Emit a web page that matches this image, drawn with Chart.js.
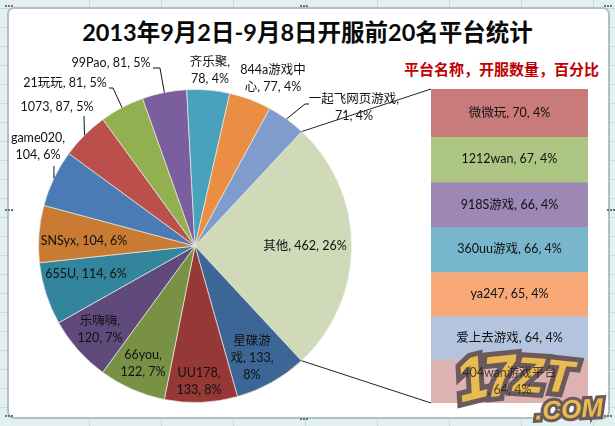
<!DOCTYPE html>
<html>
<head>
<meta charset="utf-8">
<style>
  html, body { margin: 0; padding: 0; }
  body {
    width: 615px; height: 426px; position: relative; overflow: hidden;
    background-color: #e3f0f0;
    background-image:
      repeating-linear-gradient(90deg, transparent 0 71px, #c9dcdc 71px 72px),
      repeating-linear-gradient(0deg, transparent 0 18px, #c9dcdc 18px 19px);
    background-position: 18px 0, 0 0;
    font-family: Lato, "Noto Sans CJK SC", sans-serif;
  }
  #frame {
    position: absolute; left: 7px; top: 7px; width: 599px; height: 408px;
    background: #fff; border: 2px solid #b4bec2; border-radius: 7px;
  }
  canvas { position: absolute; left: 0; top: 0; }
  .txt { position: absolute; white-space: nowrap; font-weight: 700; text-align: center; }
  #title { left: 0; width: 615px; top: 17px; font-size: 23.5px; line-height: 30px; color: #0a0a0a; }
  #note { left: 404px; top: 59px; font-size: 15px; line-height: 20px; color: #c00000; }
  .dot { position: absolute; width: 2px; height: 2px; background: #66767c; }
  #logo { position: absolute; left: 0; top: 0; pointer-events: none; }
  #logo span {
    position: absolute; font-family: "Liberation Sans", sans-serif; font-weight: 700; font-style: italic;
    color: #e9bb50; -webkit-text-stroke: 10px #6a5a5c; paint-order: stroke fill; line-height: 1;
  }
</style>
</head>
<body>
<div id="frame"></div>
<div id="title" class="txt">2013年9月2日-9月8日开服前20名平台统计</div>
<div id="note" class="txt">平台名称，开服数量，百分比</div>
<canvas id="pieChart" width="615" height="426"></canvas>
<canvas id="stackChart" width="615" height="426"></canvas>
<div id="logo">
  <span style="left:456px;top:349px;font-size:60px;transform:rotate(-14deg)">1</span>
  <span style="left:484px;top:347px;font-size:58px;transform:rotate(-6deg)">7</span>
  <span style="left:514px;top:350px;font-size:50px;transform:rotate(4deg)">Z</span>
  <span style="left:545px;top:353px;font-size:46px;transform:rotate(6deg)">T</span>
  <span style="left:535px;top:396px;font-size:26px;-webkit-text-stroke-width:6px;transform:rotate(-3deg)">.COM</span>
</div>
<canvas id="stackText" width="615" height="426"></canvas>
<script src="https://cdn.jsdelivr.net/npm/chart.js@4"></script>
<script>
  // slices, clockwise starting from the big "other" slice
  const pieNames = ['其他', '星碟游戏', 'UU178', '66you', '乐嗨嗨', '655U', 'SNSyx', 'game020', '1073', '21玩玩', '99Pao', '齐乐聚', '844a游戏中心', '一起飞网页游戏'];
  const pieValues = [462, 133, 133, 122, 120, 114, 104, 104, 87, 81, 81, 78, 77, 71];
  const pieColors = ['#d0d9b8', '#3c6696', '#953836', '#789145', '#604a7c', '#32859c', '#c97a33', '#4a7bb5', '#ba4f4c', '#93b050', '#7b5e9e', '#48a2be', '#e98e43', '#7f9ccc'];

  // the breakdown of "other"
  const stackNames = ['微微玩', '1212wan', '918S游戏', '360uu游戏', 'ya247', '爱上去游戏', '404wan游戏平台'];
  const stackValues = [70, 67, 66, 66, 65, 64, 64];
  const stackColors = ['#c87b7a', '#aec683', '#9c87b5', '#78b6ce', '#f9a978', '#b4c3de', '#deb2b0'];

  const total = pieValues.reduce((a, b) => a + b, 0);
  const pct = v => Math.round(v / total * 100);

  // label layout: centre of each label on the page, and where its text wraps
  const pieLabelAt = [[305, 246], [252, 358], [199, 381], [143, 363], [100, 329], [86, 274], [84, 241], [38, 146], [57, 107], [65, 83], [111, 63], [210, 70], [273, 78], [354, 107]];
  const pieLabelWraps = [[], [3, 10], [7], [6], [4], [], [], [8], [], [], [], [4], [7], [8]];
  const stackLabelWraps = [[], [], [], [], [], [], [10]];

  // leader lines: slice index -> bend and end of the line
  const leaders = {
    7: [[54, 166]],
    8: [[84, 116]],
    9: [[113, 88], [109, 88]],
    10: [[160, 68], [153, 68]],
    13: [[305, 104], [309, 104]]
  };

  const labelFont = '12.5px Lato, "Noto Sans CJK SC", sans-serif';
  const lineGap = 17;

  function splitAt(text, wraps) {
    const lines = [];
    let from = 0;
    wraps.forEach(w => { lines.push(text.slice(from, w).trim()); from = w; });
    lines.push(text.slice(from).trim());
    return lines;
  }

  function drawLines(ctx, lines, x, y, color) {
    ctx.save();
    ctx.font = labelFont;
    ctx.fillStyle = color || '#111';
    ctx.textAlign = 'center';
    ctx.textBaseline = 'middle';
    const top = y - (lines.length - 1) * lineGap / 2;
    lines.forEach((l, i) => ctx.fillText(l, x, top + i * lineGap));
    ctx.restore();
  }

  function arcEdge(arc, angle) {
    return [arc.x + Math.cos(angle) * arc.outerRadius, arc.y + Math.sin(angle) * arc.outerRadius];
  }

  const pieLabels = {
    id: 'pieLabels',
    afterDraw(chart) {
      const ctx = chart.ctx;
      const arcs = chart.getDatasetMeta(0).data;
      ctx.save();
      ctx.strokeStyle = '#111';
      ctx.lineWidth = 1;
      Object.keys(leaders).forEach(i => {
        const a = arcs[i];
        const start = arcEdge(a, (a.startAngle + a.endAngle) / 2);
        ctx.beginPath();
        ctx.moveTo(start[0], start[1]);
        leaders[i].forEach(p => ctx.lineTo(p[0], p[1]));
        ctx.stroke();
      });
      ctx.restore();
      pieNames.forEach((name, i) => {
        const text = name + ', ' + pieValues[i] + ', ' + pct(pieValues[i]) + '%';
        drawLines(ctx, splitAt(text, pieLabelWraps[i]), pieLabelAt[i][0], pieLabelAt[i][1]);
      });
    }
  };

  const pie = new Chart(document.getElementById('pieChart'), {
    type: 'pie',
    data: {
      labels: pieNames,
      datasets: [{ data: pieValues, backgroundColor: pieColors, borderColor: 'rgba(235,235,225,.7)', borderWidth: 1 }]
    },
    options: {
      responsive: false,
      animation: false,
      rotation: 43,
      layout: { padding: { left: 38, right: 263, top: 89, bottom: 23 } },
      plugins: { legend: { display: false }, tooltip: { enabled: false } }
    },
    plugins: [pieLabels]
  });

  const stackLabels = {
    id: 'stackLabels',
    afterDraw(chart) {
      const ctx = chart.ctx;
      const area = chart.chartArea;
      // connectors from the "other" slice to the corners of the stack
      const other = pie.getDatasetMeta(0).data[0];
      const a = arcEdge(other, other.startAngle);
      const b = arcEdge(other, other.endAngle);
      ctx.save();
      ctx.strokeStyle = '#222';
      ctx.lineWidth = 1;
      ctx.beginPath();
      ctx.moveTo(a[0], a[1]);
      ctx.lineTo(area.left, area.top);
      ctx.moveTo(b[0], b[1]);
      ctx.lineTo(area.left, area.bottom);
      ctx.stroke();
      ctx.restore();
      // these go on their own canvas so the watermark stays under them
      const top = document.getElementById('stackText').getContext('2d');
      stackNames.forEach((name, i) => {
        const bar = chart.getDatasetMeta(i).data[0];
        const text = name + ', ' + stackValues[i] + ', ' + pct(stackValues[i]) + '%';
        const color = i === stackNames.length - 1 ? 'rgba(20,15,10,.7)' : '#111';
        drawLines(top, splitAt(text, stackLabelWraps[i]), bar.x, (bar.y + bar.base) / 2, color);
      });
    }
  };

  new Chart(document.getElementById('stackChart'), {
    type: 'bar',
    data: {
      labels: ['其他'],
      datasets: stackNames.map((name, i) => ({
        label: name,
        data: [stackValues[i]],
        backgroundColor: stackColors[i],
        barPercentage: 1,
        categoryPercentage: 1
      }))
    },
    options: {
      responsive: false,
      animation: false,
      layout: { padding: { left: 431, right: 27, top: 89, bottom: 23 } },
      scales: {
        x: { stacked: true, display: false },
        y: { stacked: true, display: false, reverse: true, min: 0, max: stackValues.reduce((a, b) => a + b, 0) }
      },
      plugins: { legend: { display: false }, tooltip: { enabled: false } }
    },
    plugins: [stackLabels]
  });

  // excel selection handles around the chart
  const handleSpots = [[5, 5], [5, 209], [5, 415], [300, 5], [300, 418], [604, 5], [607, 209], [604, 415]];
  handleSpots.forEach(s => {
    for (let i = 0; i < 3; i++) {
      const d = document.createElement('div');
      d.className = 'dot';
      d.style.left = (s[0] + i * 3) + 'px';
      d.style.top = s[1] + 'px';
      document.body.appendChild(d);
    }
  });
</script>
</body>
</html>
